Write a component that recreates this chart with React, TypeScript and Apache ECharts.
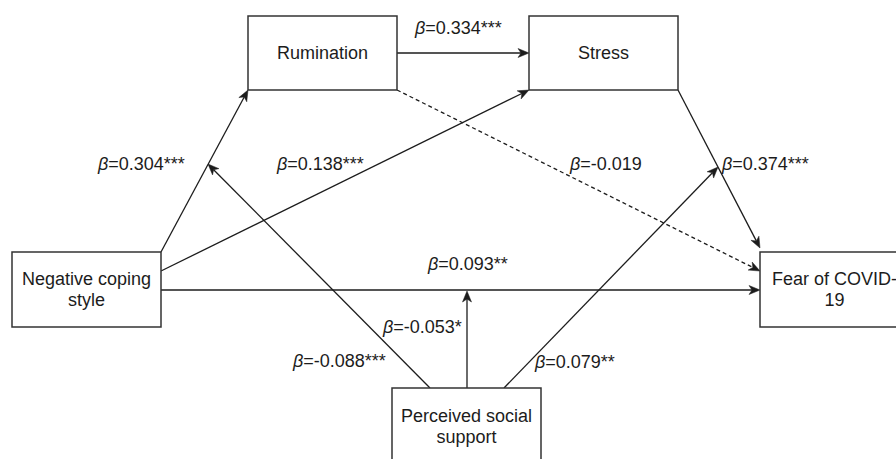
import React, { useEffect, useRef } from "react";
import * as echarts from "echarts";

// ---- data ----
const nodeNames = ["Rumination", "Stress", "Negative coping style", "Fear of COVID-19", "Perceived social support"];
const nodeTextLines = [["Rumination"], ["Stress"], ["Negative coping", "style"], ["Fear of COVID-", "19"], ["Perceived social", "support"]];
const pathCoefficients = ["0.304", "0.138", "0.334", "-0.019", "0.374", "0.093", "-0.053", "-0.088", "0.079"];
const pathSignificance = ["***", "***", "***", "", "***", "**", "*", "***", "**"];

// ---- layout (positions only) ----
const boxLayout = [
  { x: 248, y: 16, w: 149, h: 74 },
  { x: 529, y: 16, w: 149, h: 74 },
  { x: 12, y: 252, w: 149, h: 75 },
  { x: 760, y: 252, w: 149, h: 75 },
  { x: 392, y: 388, w: 149, h: 76 },
];
// edges: from (x1,y1) to tip (x2,y2)
const edgeLayout = [
  { x1: 161, y1: 252, x2: 248, y2: 90, dashed: false },
  { x1: 161, y1: 271, x2: 529, y2: 90, dashed: false },
  { x1: 397, y1: 53, x2: 529, y2: 53, dashed: false },
  { x1: 397, y1: 90, x2: 760, y2: 271, dashed: true },
  { x1: 678, y1: 90, x2: 760, y2: 248, dashed: false },
  { x1: 161, y1: 290, x2: 760, y2: 290, dashed: false },
  { x1: 467, y1: 388, x2: 467, y2: 291, dashed: false },
  { x1: 430, y1: 388, x2: 208, y2: 164, dashed: false },
  { x1: 504, y1: 388, x2: 718, y2: 167, dashed: false },
];
// label left x and middle y, in same order as coefficients
const labelLayout = [
  { x: 98, y: 164 },
  { x: 277, y: 164 },
  { x: 415, y: 28 },
  { x: 570, y: 164 },
  { x: 722, y: 164 },
  { x: 428, y: 264 },
  { x: 383, y: 327 },
  { x: 293, y: 361 },
  { x: 535, y: 362 },
];

const FONT = "'Liberation Sans', Arial, Helvetica, sans-serif";
const INK = "#1c1c1c";

function arrowParts(e: any) {
  const dx = e.x2 - e.x1;
  const dy = e.y2 - e.y1;
  const len = Math.sqrt(dx * dx + dy * dy);
  const ux = dx / len;
  const uy = dy / len;
  const nx = -uy;
  const ny = ux;
  const L = 11;
  const W = 4.5;
  const notch = 3;
  const bx = e.x2 - L * ux;
  const by = e.y2 - L * uy;
  const mx = e.x2 - (L - notch) * ux;
  const my = e.y2 - (L - notch) * uy;
  return {
    lineEnd: [mx, my],
    head: [
      [e.x2, e.y2],
      [bx + W * nx, by + W * ny],
      [mx, my],
      [bx - W * nx, by - W * ny],
    ],
  };
}

export default function App() {
  const ref = useRef<HTMLDivElement>(null);
  useEffect(() => {
    if (!ref.current) return;
    const chart = echarts.init(ref.current, undefined, { renderer: "svg" });
    const elements: any[] = [];

    edgeLayout.forEach((e) => {
      const p = arrowParts(e);
      elements.push({
        type: "line",
        shape: { x1: e.x1, y1: e.y1, x2: p.lineEnd[0], y2: p.lineEnd[1] },
        style: { stroke: INK, lineWidth: 1.3, lineDash: e.dashed ? [4, 3] : null },
        z: 1,
      });
      elements.push({
        type: "polygon",
        shape: { points: p.head },
        style: { fill: INK, stroke: INK, lineWidth: 0.5 },
        z: 2,
      });
    });

    boxLayout.forEach((b, i) => {
      elements.push({
        type: "rect",
        shape: { x: b.x, y: b.y, width: b.w, height: b.h },
        style: { fill: "#fff", stroke: "#333", lineWidth: 1.5 },
        z: 3,
      });
      const lines = nodeTextLines[i];
      const cx = b.x + b.w / 2;
      const cy = b.y + b.h / 2;
      lines.forEach((t, k) => {
        elements.push({
          type: "text",
          x: cx,
          y: cy + (k - (lines.length - 1) / 2) * 21,
          style: {
            text: t,
            fill: INK,
            fontSize: 18,
            fontFamily: FONT,
            textAlign: "center",
            align: "center",
            textVerticalAlign: "middle",
            verticalAlign: "middle",
          },
          z: 4,
        });
      });
    });

    pathCoefficients.forEach((c, i) => {
      const pos = labelLayout[i];
      elements.push({
        type: "text",
        x: pos.x,
        y: pos.y,
        style: {
          text: "{i|β}{n|=" + c + pathSignificance[i] + "}",
          rich: {
            i: { fontStyle: "italic", fontSize: 18, fontFamily: FONT, fill: INK, color: INK },
            n: { fontSize: 18, fontFamily: FONT, fill: INK, color: INK },
          },
          fill: INK,
          fontSize: 18,
          fontFamily: FONT,
          textAlign: "left",
          align: "left",
          textVerticalAlign: "middle",
          verticalAlign: "middle",
        },
        z: 5,
      });
    });

    chart.setOption({
      animation: false,
      backgroundColor: "#ffffff",
      title: { show: false, text: nodeNames.join(" / ") },
      graphic: { elements },
    });
    return () => chart.dispose();
  }, []);
  return (
    <div
      ref={ref}
      style={{ position: "fixed", left: 0, top: 0, width: 896, height: 459, background: "#fff" }}
    />
  );
}
